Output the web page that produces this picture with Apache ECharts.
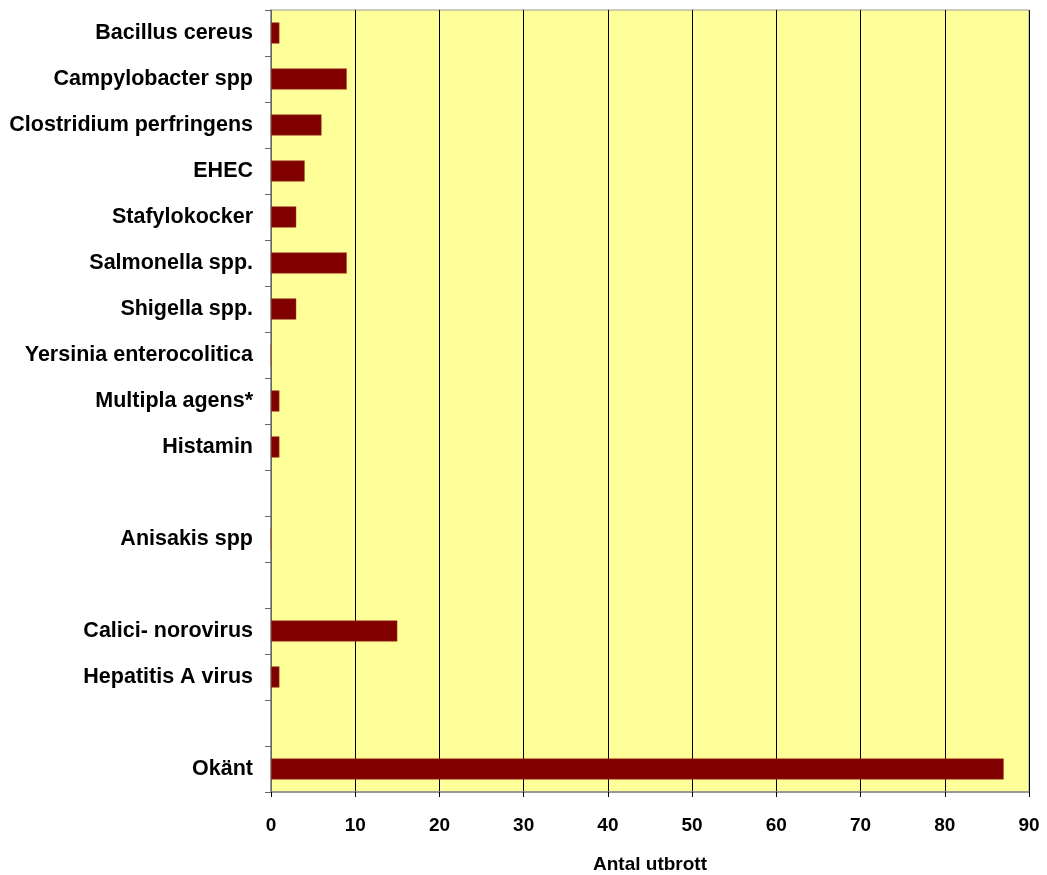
<!DOCTYPE html>
<html>
<head>
<meta charset="utf-8">
<script src="https://cdn.jsdelivr.net/npm/echarts@6/dist/echarts.min.js"></script>
<style>
  html, body { margin: 0; padding: 0; background: #fff; }
  #chart { width: 1047px; height: 875px; }
</style>
</head>
<body>
<div id="chart"></div>
<script>
// Agents behind food-borne outbreaks (blank rows separate groups)
const categories = [
  'Bacillus cereus',
  'Campylobacter spp',
  'Clostridium perfringens',
  'EHEC',
  'Stafylokocker',
  'Salmonella spp.',
  'Shigella spp.',
  'Yersinia enterocolitica',
  'Multipla agens*',
  'Histamin',
  ' ',
  'Anisakis spp',
  '  ',
  'Calici- norovirus',
  'Hepatitis A virus',
  '   ',
  'Okänt'
];
const outbreaks = [1, 9, 6, 4, 3, 9, 3, 0, 1, 1, null, 0, null, 15, 1, null, 87];
const xTicks = [0, 10, 20, 30, 40, 50, 60, 70, 80, 90];
const xTitle = 'Antal utbrott';

const font = '"Liberation Sans", Arial, sans-serif';

const chart = echarts.init(document.getElementById('chart'));
chart.setOption({
  animation: false,
  backgroundColor: '#ffffff',
  grid: {
    left: 271, right: 18, top: 10, bottom: 83,
    outerBoundsMode: 'none',
    containLabel: false,
    show: true,
    backgroundColor: '#FFFF99',
    borderColor: '#999999',
    borderWidth: 1
  },
  xAxis: {
    type: 'value',
    min: xTicks[0],
    max: xTicks[xTicks.length - 1],
    interval: xTicks[1] - xTicks[0],
    name: xTitle,
    nameLocation: 'middle',
    nameGap: 63,
    nameTextStyle: {
      fontFamily: font,
      fontWeight: 'bold', fontSize: 19, color: '#000'
    },
    axisLine: { show: true, lineStyle: { color: '#888888', width: 1.5 } },
    axisTick: { show: true, length: 5, lineStyle: { color: '#000' } },
    axisLabel: {
      margin: 24,
      fontFamily: font,
      fontWeight: 'bold', fontSize: 19, color: '#000'
    },
    splitLine: { show: true, lineStyle: { color: '#000000', width: 1 } }
  },
  yAxis: {
    type: 'category',
    data: categories,
    inverse: true,
    axisLine: { show: true, lineStyle: { color: '#888888', width: 1.5 } },
    axisTick: { show: true, length: 6, lineStyle: { color: '#666' } },
    axisLabel: {
      margin: 18,
      fontFamily: font,
      fontWeight: 'bold', fontSize: 21.5, color: '#000'
    },
    splitLine: { show: false }
  },
  series: [{
    type: 'bar',
    data: outbreaks,
    barWidth: '46%',
    itemStyle: { color: '#800000', borderColor: '#A05030', borderWidth: 0.5 }
  }]
});
</script>
</body>
</html>
